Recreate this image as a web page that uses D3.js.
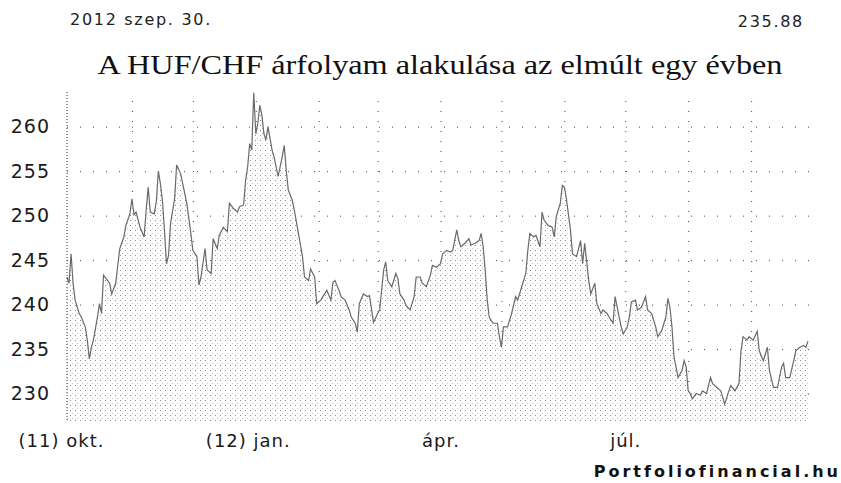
<!DOCTYPE html>
<html>
<head>
<meta charset="utf-8">
<script src="https://cdn.jsdelivr.net/npm/d3@7"></script>
<style>
  body { margin:0; background:#fff; }
  svg { display:block; }
</style>
</head>
<body>
<script>
// napok szama 2011-09-30 ota, es a HUF/CHF arfolyam
var days = [0,1,2,3,4,6,7,9,10,11,12,13,15,16,17,18,20,21,22,24,25,26,28,29,31,32,33,34,36,38,
  39,40,41,43,44,45,46,47,48,49,50,51,53,54,56,57,59,61,62,64,65,66,68,69,71,72,74,75,77,79,
  80,82,84,85,87,88,89,90,91,92,93,94,95,96,97,98,99,101,102,104,106,107,108,109,111,112,114,116,117,119,
  120,122,123,125,126,128,130,131,132,134,135,137,139,140,142,143,144,146,148,149,151,153,154,156,157,158,160,162,163,164,
  166,167,169,171,172,174,175,177,179,180,182,184,185,187,189,190,192,193,194,196,198,199,201,203,204,205,206,207,208,209,
  210,212,213,214,215,217,219,221,222,224,226,227,228,230,231,233,234,235,237,239,240,241,243,244,245,246,248,249,251,253,
  254,255,257,258,260,261,263,264,266,267,269,270,272,273,274,276,277,278,280,281,283,285,286,288,290,291,293,295,296,297,
  298,299,300,301,303,304,305,306,307,308,310,312,313,315,317,318,320,322,323,324,326,327,329,331,332,333,335,336,338,340,
  341,343,345,346,348,350,352,353,354,356,358,359,361,363,364,365];
var rates = [243.1,242.4,245.7,242.4,240.5,239.0,238.6,237.5,236.0,233.9,235.2,236.0,238.6,240.1,239.0,243.3,242.7,242.4,241.2,242.4,244.4,246.3,247.6,248.9,250.2,251.9,250.1,250.4,248.7,247.6,
  250.6,253.2,250.4,250.2,251.6,255.0,253.6,251.7,248.4,244.6,245.5,249.1,251.9,255.7,254.7,253.6,251.4,248.0,246.1,245.4,242.2,243.1,246.3,243.9,243.5,247.4,246.3,247.8,248.7,248.2,
  251.4,250.8,250.4,251.0,251.2,254.0,255.5,258.1,257.4,263.8,259.2,260.4,262.4,261.3,259.2,258.5,260.0,257.4,256.6,254.4,256.6,257.9,255.1,252.9,251.7,250.6,248.0,245.4,243.1,242.7,
  244.0,243.1,240.1,240.5,240.9,241.6,240.5,242.5,242.7,241.6,240.9,240.5,239.4,238.6,237.9,236.9,240.1,241.2,240.9,241.0,238.0,239.0,239.4,243.9,244.8,242.7,242.0,243.5,242.9,241.2,
  240.5,239.9,239.4,240.9,243.1,243.1,242.4,242.0,243.3,244.4,244.2,244.6,245.7,246.1,245.9,246.1,248.4,247.2,246.5,246.9,247.4,246.7,246.9,247.2,248.0,246.5,243.9,240.5,238.6,238.2,
  237.9,237.9,236.4,235.2,237.5,237.5,239.0,240.9,240.5,242.0,243.5,246.1,248.0,247.6,247.8,246.5,250.4,249.5,248.9,248.7,247.6,249.9,251.4,253.4,253.2,251.9,248.4,245.7,245.4,247.2,
  244.6,246.9,242.7,241.2,242.4,240.1,239.0,239.4,239.0,238.6,237.9,240.9,238.6,237.5,236.7,237.5,238.6,240.3,240.5,239.4,239.7,240.9,239.4,239.0,237.5,236.4,237.1,238.6,240.7,239.7,
  237.5,234.1,233.0,231.8,232.6,233.7,233.0,230.3,230.0,229.4,230.0,229.8,230.3,230.0,231.8,231.1,230.7,230.3,229.6,228.8,230.3,230.9,230.3,231.1,234.8,236.4,236.0,236.4,236.0,237.0,
  234.8,233.7,235.2,232.6,230.7,230.7,233.0,233.4,231.8,231.8,233.7,234.8,235.2,235.4,235.2,235.88];

var yTicks = [230,235,240,245,250,255,260];
var xLabelMonths = ["2011-10-01","2012-01-01","2012-04-01","2012-07-01"];
var xLabels = ["(11) okt.","(12) jan.","ápr.","júl."];

var titleText = "A HUF/CHF árfolyam alakulása az elmúlt egy évben";
var dateText = "2012 szep. 30.";
var lastText = "235.88";
var sourceText = "Portfoliofinancial.hu";

var width = 841;
var height = 483;
var plot = {left:67, right:810, top:92, bottom:422};

var parse = d3.timeParse("%Y-%m-%d");
var start = parse("2011-09-30");
var end = parse("2012-09-30");

var data = days.map(function(d,i){
  return {date: d3.timeDay.offset(start, d), value: rates[i]};
});

var svg = d3.select("body").append("svg")
  .attr("width",width)
  .attr("height",height);

svg.append("rect").attr("width",width).attr("height",height).attr("fill","#fff");

var defs = svg.append("defs");
var pat = defs.append("pattern")
  .attr("id","stip")
  .attr("patternUnits","userSpaceOnUse")
  .attr("width",5).attr("height",5);
pat.append("rect").attr("width",5).attr("height",5).attr("fill","#fff");
pat.append("rect").attr("x",0).attr("y",0).attr("width",1).attr("height",1).attr("fill","#8a8a8a");
pat.append("rect").attr("x",2).attr("y",3).attr("width",1).attr("height",1).attr("fill","#c4c4c4");

var xScale = d3.scaleTime()
  .domain([start,end])
  .range([plot.left,plot.right]);
var yScale = d3.scaleLinear()
  .domain([226.8,263.9])
  .range([plot.bottom,plot.top]);

// racsvonalak
var yGrid = svg.append("g")
  .attr("transform","translate("+plot.left+",0)")
  .call(d3.axisLeft(yScale).tickValues(yTicks).tickSize(-(plot.right-plot.left)).tickFormat(""));
yGrid.select(".domain").remove();
yGrid.selectAll("line")
  .attr("stroke","#444")
  .attr("stroke-width",1)
  .attr("stroke-dasharray","1,12");

var gridMonths = d3.timeMonth.range(parse("2011-11-01"), parse("2012-09-02"));
var xGrid = svg.append("g")
  .attr("transform","translate(0,"+plot.bottom+")")
  .call(d3.axisBottom(xScale).tickValues(gridMonths).tickSize(-(plot.bottom-plot.top)).tickFormat(""));
xGrid.select(".domain").remove();
xGrid.selectAll("line")
  .attr("stroke","#444")
  .attr("stroke-width",1)
  .attr("stroke-dasharray","1,9");

var area = d3.area()
  .x(function(d){return xScale(d.date)})
  .y0(plot.bottom)
  .y1(function(d){return yScale(d.value)});

var line = d3.line()
  .x(function(d){return xScale(d.date)})
  .y(function(d){return yScale(d.value)});

svg.append("path")
  .datum(data)
  .attr("d",area)
  .attr("fill","url(#stip)");

svg.append("path")
  .datum(data)
  .attr("d",line)
  .attr("fill","none")
  .attr("stroke","#6a6a6a")
  .attr("stroke-width",1.2);

// bal tengely pontozott vonala
svg.append("line")
  .attr("x1",plot.left).attr("x2",plot.left)
  .attr("y1",plot.top).attr("y2",plot.bottom)
  .attr("stroke","#333")
  .attr("stroke-dasharray","1,2");

var yAxis = svg.append("g")
  .attr("transform","translate(50,0)")
  .call(d3.axisLeft(yScale).tickValues(yTicks).tickSize(0).tickPadding(0));
yAxis.select(".domain").remove();
yAxis.selectAll("text")
  .attr("font-family","DejaVu Sans")
  .attr("font-size",19)
  .attr("letter-spacing",1)
  .attr("fill","#1a1a1a");

var xAxis = svg.append("g")
  .attr("transform","translate(0,"+(plot.bottom+9)+")")
  .call(d3.axisBottom(xScale)
    .tickValues(xLabelMonths.map(parse))
    .tickSize(0)
    .tickFormat(function(d,i){return xLabels[i]}));
xAxis.select(".domain").remove();
xAxis.selectAll("text")
  .attr("font-family","DejaVu Sans")
  .attr("font-size",18)
  .attr("letter-spacing",1)
  .attr("fill","#1a1a1a")
  .attr("dx",function(d,i){return xLabels[i].indexOf("(")===0 ? -8 : 0});

svg.append("text")
  .attr("x",440).attr("y",74)
  .attr("text-anchor","middle")
  .attr("font-family","Liberation Serif")
  .attr("font-size",27)
  .attr("textLength",685)
  .attr("lengthAdjust","spacingAndGlyphs")
  .attr("fill","#111")
  .text(titleText);

svg.append("text")
  .attr("x",70).attr("y",25)
  .attr("font-family","DejaVu Sans")
  .attr("font-size",16)
  .attr("letter-spacing",1.7)
  .attr("fill","#222")
  .text(dateText);

svg.append("text")
  .attr("x",804).attr("y",27)
  .attr("text-anchor","end")
  .attr("font-family","DejaVu Sans")
  .attr("font-size",16)
  .attr("letter-spacing",1.7)
  .attr("fill","#222")
  .text(lastText);

svg.append("text")
  .attr("x",841).attr("y",477)
  .attr("text-anchor","end")
  .attr("font-family","DejaVu Sans")
  .attr("font-weight","bold")
  .attr("font-size",16)
  .attr("letter-spacing",3)
  .attr("fill","#111")
  .text(sourceText);
</script>
</body>
</html>
